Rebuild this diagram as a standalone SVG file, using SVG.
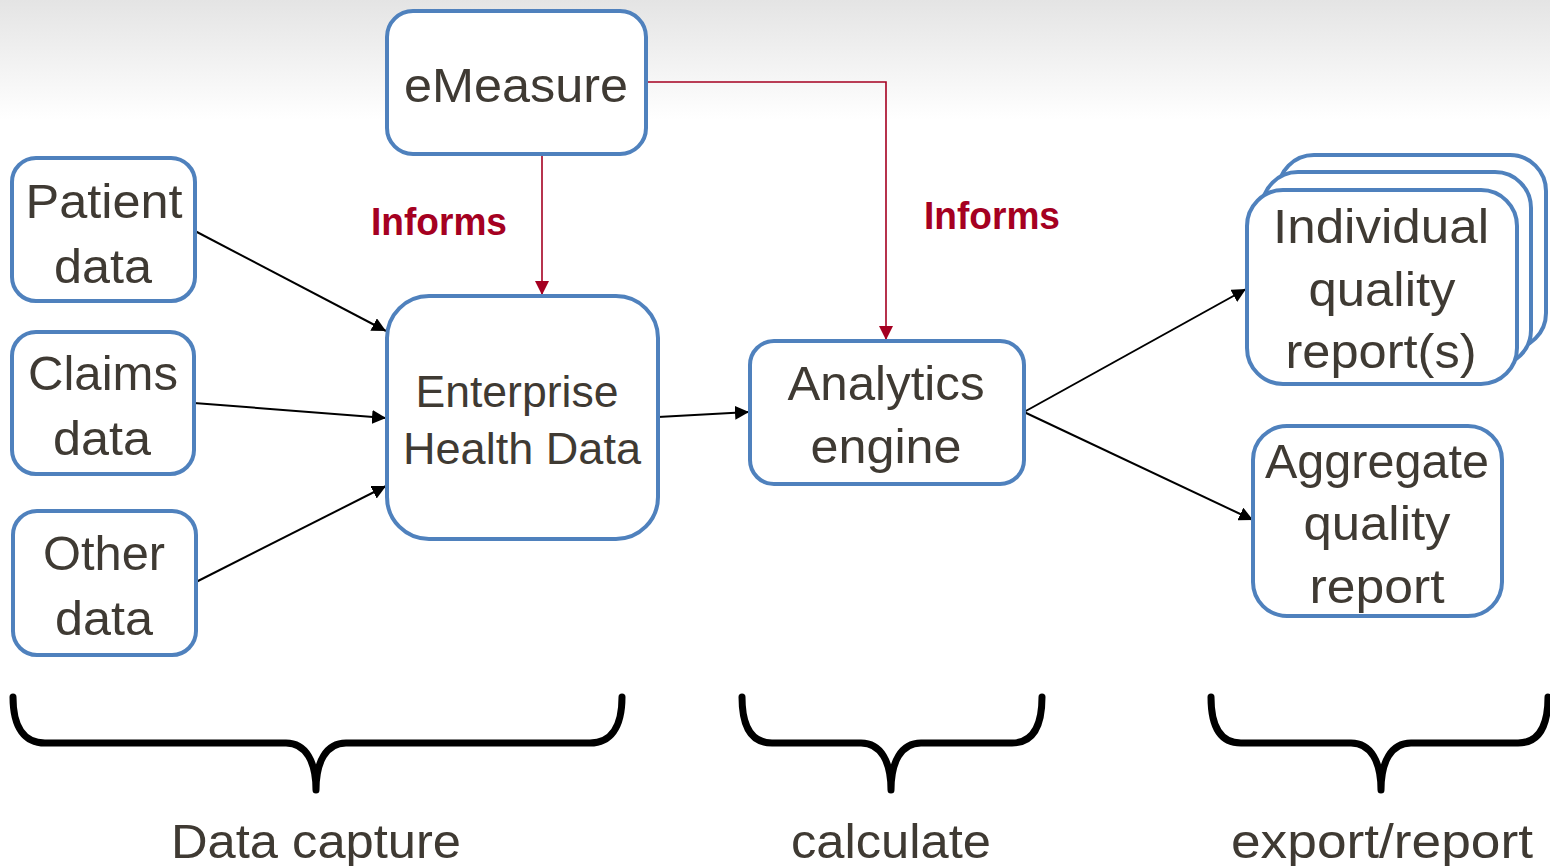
<svg xmlns="http://www.w3.org/2000/svg" width="1550" height="866" viewBox="0 0 1550 866">
<defs>
<linearGradient id="bg" x1="0" y1="0" x2="0" y2="1">
<stop offset="0" stop-color="#e4e4e4"/>
<stop offset="1" stop-color="#ffffff"/>
</linearGradient>
<marker id="ah" viewBox="0 0 10 10" refX="10" refY="5" markerWidth="14" markerHeight="14" markerUnits="userSpaceOnUse" orient="auto">
<path d="M0,0 L10,5 L0,10 z" fill="#000"/>
</marker>
<marker id="ahr" viewBox="0 0 10 10" refX="10" refY="5" markerWidth="14" markerHeight="14" markerUnits="userSpaceOnUse" orient="auto">
<path d="M0,0 L10,5 L0,10 z" fill="#a50021"/>
</marker>
<style>
.box{fill:#fff;stroke:#4f81bd;stroke-width:4}
.t{font-family:"Liberation Sans",Arial,sans-serif;fill:#3f3a33;text-anchor:middle}
.b48{font-size:48px}
.b44{font-size:44px}
.inf{font-family:"Liberation Sans",Arial,sans-serif;font-weight:bold;font-size:38px;fill:#a50021;text-anchor:middle}
.con{stroke:#000;stroke-width:2;fill:none;marker-end:url(#ah)}
.red{stroke:#a50021;stroke-width:1.6;fill:none;marker-end:url(#ahr)}
.brace{stroke:#000;stroke-width:7;fill:none;stroke-linecap:round;stroke-linejoin:round}
</style>
</defs>
<rect x="0" y="0" width="1550" height="120" fill="url(#bg)"/>

<g id="connectors">
<line class="con" x1="195" y1="231" x2="386" y2="331"/>
<line class="con" x1="194" y1="403" x2="386" y2="418"/>
<line class="con" x1="196" y1="582" x2="386" y2="486"/>
<line class="con" x1="658" y1="417" x2="749" y2="412"/>
<line class="con" x1="1024" y1="412" x2="1246" y2="289"/>
<line class="con" x1="1024" y1="412" x2="1253" y2="520"/>
<line class="red" x1="542" y1="154" x2="542" y2="295"/>
<polyline class="red" points="646,82 886,82 886,340"/>
<text class="inf" x="439" y="235" textLength="136" lengthAdjust="spacingAndGlyphs">Informs</text>
<text class="inf" x="992" y="229" textLength="136" lengthAdjust="spacingAndGlyphs">Informs</text>
</g>

<g id="emeasure">
<rect class="box" x="387" y="11" width="259" height="143" rx="26"/>
<text class="t b48" x="516" y="102" textLength="224" lengthAdjust="spacingAndGlyphs">eMeasure</text>
</g>

<g id="patient">
<rect class="box" x="12" y="158" width="183" height="143" rx="24"/>
<text class="t b48" x="104" y="218" textLength="157" lengthAdjust="spacingAndGlyphs">Patient</text>
<text class="t b48" x="103" y="283" textLength="98" lengthAdjust="spacingAndGlyphs">data</text>
</g>

<g id="claims">
<rect class="box" x="12" y="332" width="182" height="142" rx="24"/>
<text class="t b48" x="103" y="390" textLength="150" lengthAdjust="spacingAndGlyphs">Claims</text>
<text class="t b48" x="102" y="455" textLength="98" lengthAdjust="spacingAndGlyphs">data</text>
</g>

<g id="other">
<rect class="box" x="13" y="511" width="183" height="144" rx="24"/>
<text class="t b48" x="104" y="570" textLength="122" lengthAdjust="spacingAndGlyphs">Other</text>
<text class="t b48" x="104" y="635" textLength="98" lengthAdjust="spacingAndGlyphs">data</text>
</g>

<g id="ehd">
<rect class="box" x="387" y="296" width="271" height="243" rx="42"/>
<text class="t b44" x="517" y="407" textLength="203" lengthAdjust="spacingAndGlyphs">Enterprise</text>
<text class="t b44" x="522" y="464" textLength="238" lengthAdjust="spacingAndGlyphs">Health Data</text>
</g>

<g id="analytics">
<rect class="box" x="750" y="341" width="274" height="143" rx="24"/>
<text class="t b48" x="886" y="400" textLength="197" lengthAdjust="spacingAndGlyphs">Analytics</text>
<text class="t b48" x="886" y="463" textLength="151" lengthAdjust="spacingAndGlyphs">engine</text>
</g>

<g id="individual">
<rect class="box" x="1278" y="155" width="268" height="194" rx="36"/>
<rect class="box" x="1262" y="172" width="269" height="194" rx="36"/>
<rect class="box" x="1247" y="190" width="270" height="194" rx="36"/>
<text class="t b48" x="1381" y="243" textLength="216" lengthAdjust="spacingAndGlyphs">Individual</text>
<text class="t b48" x="1382" y="306" textLength="147" lengthAdjust="spacingAndGlyphs">quality</text>
<text class="t b48" x="1381" y="368" textLength="191" lengthAdjust="spacingAndGlyphs">report(s)</text>
</g>

<g id="aggregate">
<rect class="box" x="1253" y="426" width="249" height="190" rx="34"/>
<text class="t b48" x="1377" y="478" textLength="224" lengthAdjust="spacingAndGlyphs">Aggregate</text>
<text class="t b48" x="1377" y="540" textLength="147" lengthAdjust="spacingAndGlyphs">quality</text>
<text class="t b48" x="1377" y="603" textLength="135" lengthAdjust="spacingAndGlyphs">report</text>
</g>

<g id="brace-capture">
<path class="brace" d="M13,697 C13,728 25,743 45,743 L286,743 C306,743 316,762 316,790 C316,762 326,743 346,743 L590,743 C610,743 622,728 622,697"/>
<text class="t b48" x="316" y="858" textLength="290" lengthAdjust="spacingAndGlyphs">Data capture</text>
</g>

<g id="brace-calculate">
<path class="brace" d="M742,697 C742,728 752,743 772,743 L861,743 C881,743 891,762 891,790 C891,762 901,743 921,743 L1012,743 C1032,743 1042,728 1042,697"/>
<text class="t b48" x="891" y="858" textLength="200" lengthAdjust="spacingAndGlyphs">calculate</text>
</g>

<g id="brace-export">
<path class="brace" d="M1211,697 C1211,728 1221,743 1241,743 L1351,743 C1371,743 1381,762 1381,790 C1381,762 1391,743 1411,743 L1518,743 C1538,743 1548,728 1548,697"/>
<text class="t b48" x="1382" y="858" textLength="302" lengthAdjust="spacingAndGlyphs">export/report</text>
</g>
</svg>
